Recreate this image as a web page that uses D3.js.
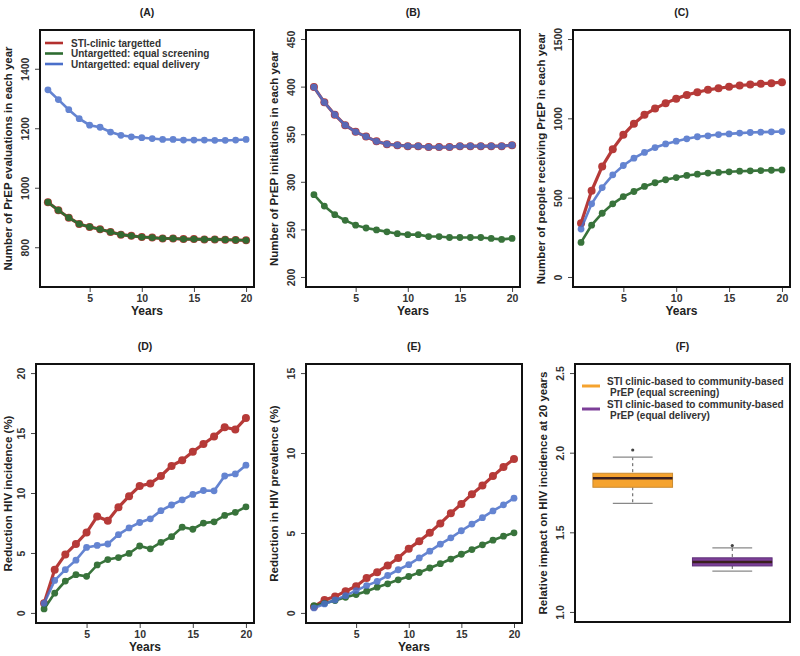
<!DOCTYPE html>
<html>
<head>
<meta charset="utf-8">
<script src="https://cdnjs.cloudflare.com/ajax/libs/d3/7.8.5/d3.min.js"></script>
<style>
  body { margin: 0; background: white; }
  text { font-family: "Liberation Sans", Arial, sans-serif; font-weight: bold; }
</style>
</head>
<body>
<div id="chart"></div>
<script>
var years = [1,2,3,4,5,6,7,8,9,10,11,12,13,14,15,16,17,18,19,20];

// (A) PrEP evaluations
var evalSti = [953,926,901,880,870,862,853,844,840,836,834,831,831,829,829,828,828,827,826,825];
var evalScreen = [953,926,901,880,870,862,853,844,840,836,834,831,831,829,829,828,828,827,826,825];
var evalDelivery = [1331,1298,1264,1234,1212,1205,1189,1178,1173,1170,1167,1164,1164,1162,1162,1162,1161,1161,1162,1164];

// (B) PrEP initiations
var initSti = [400,384,371,360,353,348,343,340,339,338,338,337,337,337,338,338,338,338,338,339];
var initScreen = [287,275,266,260,255,252,250,248,246,245,245,243,243,242,242,242,242,241,240,241];
var initDelivery = [400,384,371,360,353,348,343,340,339,338,338,337,337,337,338,338,338,338,338,339];

// (C) people receiving PrEP
var recvSti = [342,546,700,809,899,969,1025,1065,1099,1126,1151,1168,1183,1193,1202,1210,1216,1221,1225,1231];
var recvScreen = [221,330,405,464,510,542,574,597,616,630,643,651,658,662,666,670,672,674,676,678];
var recvDelivery = [305,464,567,647,706,752,788,819,842,859,874,887,893,901,905,910,914,916,918,920];

// (D) reduction in HIV incidence (%)
var incSti = [0.84,3.65,4.92,5.79,6.74,8.09,7.72,8.85,9.78,10.62,10.84,11.46,12.3,12.78,13.48,14.13,14.75,15.53,15.34,16.29];
var incScreen = [0.37,1.69,2.7,3.23,3.09,4.04,4.49,4.66,5.0,5.62,5.39,5.93,6.4,7.19,7.02,7.53,7.64,8.17,8.43,8.88];
var incDelivery = [0.84,2.75,3.65,4.44,5.5,5.67,5.79,6.57,7.13,7.58,7.89,8.57,9.04,9.47,9.92,10.25,10.22,11.46,11.63,12.36];

// (E) reduction in HIV prevalence (%)
var prevSti = [0.42,0.84,1.05,1.39,1.7,2.21,2.58,3.0,3.47,4.05,4.52,5.04,5.63,6.26,6.85,7.46,8.0,8.59,9.16,9.66];
var prevScreen = [0.48,0.63,0.8,1.01,1.18,1.39,1.64,1.85,2.1,2.31,2.56,2.84,3.11,3.4,3.7,3.99,4.29,4.58,4.83,5.04];
var prevDelivery = [0.34,0.59,0.84,1.11,1.43,1.74,2.0,2.37,2.73,3.05,3.47,3.89,4.33,4.73,5.17,5.59,5.99,6.41,6.79,7.21];

// (F) relative impact at 20 years: [lowWhisker, q1, median, q3, highWhisker, outlier]
var boxNames = ["equal screening", "equal delivery"];
var boxStats = [
  [1.685, 1.786, 1.842, 1.874, 1.975, 2.02],
  [1.26, 1.292, 1.317, 1.343, 1.405, 1.42]
];

var seriesNames = ["STI-clinic targetted", "Untargetted: equal screening", "Untargetted: equal delivery"];
var xTicks = [5, 10, 15, 20];

var colours = ["#b3302e", "#2e6c31", "#4a6fca"];
var boxFill = ["#f5a32f", "#7c3f98"];
var boxStroke = ["#c98b32", "#5e2f78"];

const width = 800, height = 656;

let svg = d3.select('#chart')
    .append('svg')
    .attr('width', width)
    .attr('height', height);

function panel(opt) {
    // opt.box = [left, top, right, bottom]
    const [l, t, r, b] = opt.box;
    const xScale = d3.scaleLinear().domain(opt.xDomain).range([l, r]);
    const yScale = d3.scaleLinear().domain(opt.yDomain).range([b, t]);

    // title
    svg.append('text')
        .attr('x', (l + r) / 2)
        .attr('y', opt.titleY)
        .attr('text-anchor', 'middle')
        .style('font-size', '10.5px')
        .style('fill', '#222')
        .text(opt.title);

    // y label
    svg.append('text')
        .attr('transform', `translate(${Math.max(l - 28, 12)}, ${(t + b) / 2}) rotate(-90)`)
        .attr('text-anchor', 'middle')
        .style('font-size', '11.5px')
        .style('fill', '#222')
        .text(opt.yLabel);

    // y axis
    let yAxis = svg.append('g')
        .attr('transform', `translate(${l}, 0)`)
        .call(d3.axisLeft(yScale).tickValues(opt.yTicks).tickSize(5).tickFormat(opt.yFormat || d3.format('d')));
    yAxis.select('.domain').remove();
    yAxis.selectAll('.tick').attr('transform', null);
    yAxis.selectAll('.tick line').attr('y1', yScale).attr('y2', yScale).attr('stroke', '#444');
    yAxis.selectAll('text')
        .attr('transform', function(d) { return `rotate(-90, -11, ${yScale(d)})`; })
        .attr('x', -11)
        .attr('y', yScale)
        .attr('dy', '0')
        .attr('text-anchor', 'middle')
        .style('font-size', '10.5px')
        .style('font-family', '"Liberation Sans", Arial, sans-serif')
        .style('font-weight', 'bold')
        .style('fill', '#333');

    if (opt.xLabel) {
        let xAxis = svg.append('g')
            .attr('transform', `translate(0, ${b})`)
            .call(d3.axisBottom(xScale).tickValues(xTicks).tickSize(5).tickPadding(3));
        xAxis.select('.domain').remove();
        xAxis.selectAll('line').attr('stroke', '#444');
        xAxis.selectAll('text')
            .style('font-size', '10.5px')
            .style('font-family', '"Liberation Sans", Arial, sans-serif')
            .style('font-weight', 'bold')
            .style('fill', '#333');

        svg.append('text')
            .attr('x', (l + r) / 2)
            .attr('y', b + 28)
            .attr('text-anchor', 'middle')
            .style('font-size', '12px')
            .style('fill', '#222')
            .text(opt.xLabel);
    }

    if (opt.series) {
        opt.series.forEach(function(vals, i) {
            let data = years.map((yr, j) => ({x: yr, y: vals[j]}));
            let lw = i == 0 ? 3.2 : 2.6;
            let pr = i == 0 ? 4 : 3.4;
            let g = svg.append('g').attr('opacity', i == 2 ? 0.85 : 0.95);
            g.append('path')
                .datum(data)
                .attr('fill', 'none')
                .attr('stroke', colours[i])
                .attr('stroke-width', lw)
                .attr('d', d3.line().x(d => xScale(d.x)).y(d => yScale(d.y)));
            g.selectAll('circle')
                .data(data)
                .enter()
                .append('circle')
                .attr('cx', d => xScale(d.x))
                .attr('cy', d => yScale(d.y))
                .attr('r', pr)
                .attr('fill', colours[i]);
        });
    }

    // frame
    svg.append('rect')
        .attr('x', l)
        .attr('y', t)
        .attr('width', r - l)
        .attr('height', b - t)
        .attr('fill', 'none')
        .attr('stroke', '#111')
        .attr('stroke-width', 2);

    return {x: xScale, y: yScale};
}

const xDom = [0.24, 20.76];

panel({box: [40, 30, 254, 287], xDomain: xDom, yDomain: [668, 1532], yTicks: [800, 1000, 1200, 1400],
    title: '(A)', titleY: 16, yLabel: 'Number of PrEP evaluations in each year', xLabel: 'Years',
    series: [evalSti, evalScreen, evalDelivery]});

panel({box: [306, 30, 520, 287], xDomain: xDom, yDomain: [190, 460], yTicks: [200, 250, 300, 350, 400, 450],
    title: '(B)', titleY: 16, yLabel: 'Number of PrEP initiations in each year', xLabel: 'Years',
    series: [initSti, initScreen, initDelivery]});

panel({box: [573, 30, 790, 287], xDomain: xDom, yDomain: [-60, 1560], yTicks: [0, 500, 1000, 1500],
    title: '(C)', titleY: 16, yLabel: 'Number of people receiving PrEP in each year', xLabel: 'Years',
    series: [recvSti, recvScreen, recvDelivery]});

panel({box: [36, 364, 254, 623], xDomain: xDom, yDomain: [-0.8, 20.8], yTicks: [0, 5, 10, 15, 20],
    title: '(D)', titleY: 350, yLabel: 'Reduction HIV incidence (%)', xLabel: 'Years',
    series: [incSti, incScreen, incDelivery]});

panel({box: [306, 364, 522, 623], xDomain: xDom, yDomain: [-0.6, 15.6], yTicks: [0, 5, 10, 15],
    title: '(E)', titleY: 350, yLabel: 'Reduction in HIV prevalence (%)', xLabel: 'Years',
    series: [prevSti, prevScreen, prevDelivery]});

// legend for A
let legA = svg.append('g');
seriesNames.forEach(function(name, i) {
    let y = 43 + i * 10.5;
    legA.append('line')
        .attr('x1', 45).attr('x2', 63)
        .attr('y1', y).attr('y2', y)
        .attr('stroke', colours[i])
        .attr('stroke-width', 2.6);
    legA.append('text')
        .attr('x', 71).attr('y', y + 3.5)
        .style('font-size', '10px')
        .style('fill', '#333')
        .text(name);
});

// (F) boxplots
let pF = panel({box: [575, 364, 790, 622], xDomain: [0.42, 2.58], yDomain: [0.94, 2.56], yTicks: [1.0, 1.5, 2.0, 2.5],
    yFormat: d3.format('.1f'),
    title: '(F)', titleY: 350, yLabel: 'Relative impact on HIV incidence at 20 years'});

boxStats.forEach(function(s, i) {
    let cx = pF.x(i + 1);
    let half = pF.x(1.4) - pF.x(1);
    let cap = half / 2;
    let g = svg.append('g');
    // whiskers
    g.append('line').attr('x1', cx).attr('x2', cx).attr('y1', pF.y(s[4])).attr('y2', pF.y(s[3]))
        .attr('stroke', '#555').attr('stroke-width', 1).attr('stroke-dasharray', '3,3');
    g.append('line').attr('x1', cx).attr('x2', cx).attr('y1', pF.y(s[1])).attr('y2', pF.y(s[0]))
        .attr('stroke', '#555').attr('stroke-width', 1).attr('stroke-dasharray', '3,3');
    [s[0], s[4]].forEach(function(v) {
        g.append('line').attr('x1', cx - cap).attr('x2', cx + cap).attr('y1', pF.y(v)).attr('y2', pF.y(v))
            .attr('stroke', '#888').attr('stroke-width', 1.2);
    });
    g.append('rect')
        .attr('x', cx - half).attr('width', 2 * half)
        .attr('y', pF.y(s[3])).attr('height', pF.y(s[1]) - pF.y(s[3]))
        .attr('fill', boxFill[i]).attr('stroke', boxStroke[i]).attr('stroke-width', 1);
    g.append('line').attr('x1', cx - half).attr('x2', cx + half).attr('y1', pF.y(s[2])).attr('y2', pF.y(s[2]))
        .attr('stroke', '#3a1f1f').attr('stroke-width', 2.5);
    g.append('circle').attr('cx', cx).attr('cy', pF.y(s[5])).attr('r', 1.6)
        .attr('fill', '#444');
});

// legend for F
let legF = svg.append('g');
boxNames.forEach(function(name, i) {
    let y = 386 + i * 23;
    legF.append('line')
        .attr('x1', 582).attr('x2', 600)
        .attr('y1', y).attr('y2', y)
        .attr('stroke', boxFill[i])
        .attr('stroke-width', 3);
    legF.append('text')
        .attr('x', 607).attr('y', y - 1)
        .style('font-size', '10px')
        .style('fill', '#333')
        .text('STI clinic-based to community-based');
    legF.append('text')
        .attr('x', 610).attr('y', y + 10)
        .style('font-size', '10px')
        .style('fill', '#333')
        .text('PrEP (' + name + ')');
});
</script>
</body>
</html>
